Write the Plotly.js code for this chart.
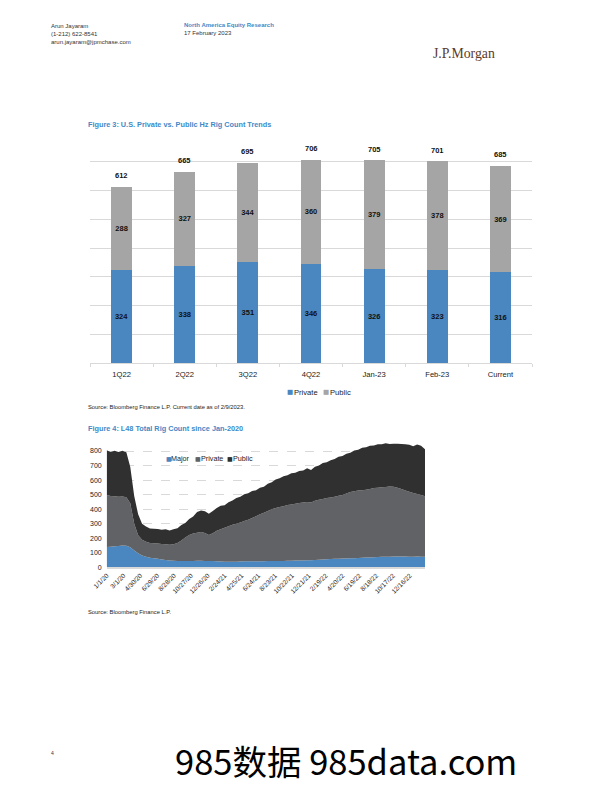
<!DOCTYPE html>
<html><head><meta charset="utf-8">
<script src="https://cdn.plot.ly/plotly-3.0.1.min.js"></script>
<style>html,body{margin:0;padding:0;background:#fff}#chart{width:612px;height:792px}</style>
</head><body><div id="chart"></div>
<script>
// ---------- Figure 3 data ----------
const fig3Categories = ['1Q22','2Q22','3Q22','4Q22','Jan-23','Feb-23','Current'];
const fig3Private = [324,338,351,346,326,323,316];
const fig3Public  = [288,327,344,360,379,378,369];
const fig3Total   = [612,665,695,706,705,701,685];

// ---------- Figure 4 data (bi-weekly readings) ----------
const fig4Dates = [
'2020-01-01','2020-01-15','2020-01-29','2020-02-12','2020-02-26','2020-03-11','2020-03-25','2020-04-08','2020-04-22','2020-05-06',
'2020-05-20','2020-06-03','2020-06-17','2020-07-01','2020-07-15','2020-07-29','2020-08-12','2020-08-26','2020-09-09','2020-09-23',
'2020-10-07','2020-10-21','2020-11-04','2020-11-18','2020-12-02','2020-12-16','2020-12-30','2021-01-13','2021-01-27','2021-02-10',
'2021-02-24','2021-03-10','2021-03-24','2021-04-07','2021-04-21','2021-05-05','2021-05-19','2021-06-02','2021-06-16','2021-06-30',
'2021-07-14','2021-07-28','2021-08-11','2021-08-25','2021-09-08','2021-09-22','2021-10-06','2021-10-20','2021-11-03','2021-11-17',
'2021-12-01','2021-12-15','2021-12-29','2022-01-12','2022-01-26','2022-02-09','2022-02-23','2022-03-09','2022-03-23','2022-04-06',
'2022-04-20','2022-05-04','2022-05-18','2022-06-01','2022-06-15','2022-06-29','2022-07-13','2022-07-27','2022-08-10','2022-08-24',
'2022-09-07','2022-09-21','2022-10-05','2022-10-19','2022-11-02','2022-11-16','2022-11-30','2022-12-14','2022-12-28','2023-01-11',
'2023-01-25','2023-02-08'];
const fig4Major = [
140,142,145,147,150,148,138,115,96,82,
72,66,62,58,54,50,47,45,44,44,
44,44,44,45,45,44,44,43,42,40,
38,38,38,39,40,41,41,42,42,42,
42,43,43,43,44,44,45,45,46,46,
47,48,48,50,52,54,56,57,58,59,
60,61,62,63,64,66,67,68,70,71,
72,73,73,74,74,74,74,73,72,74,
73,72];
const fig4Private = [
357,348,343,338,337,334,302,185,124,108,
103,102,103,105,106,108,109,113,124,141,
161,178,188,193,198,192,178,192,210,222,
234,244,254,261,268,277,287,298,310,323,
333,345,357,365,371,376,383,387,391,396,
399,402,398,408,413,416,420,423,428,433,
438,447,456,461,464,464,467,470,475,477,
478,479,483,481,474,464,454,447,440,431,
425,416];
const fig4Public = [
308,303,314,309,315,310,250,190,145,110,
106,99,100,101,99,104,98,103,100,106,
100,110,118,142,147,150,146,152,156,162,
155,166,168,176,178,184,181,185,178,183,
179,186,186,196,197,206,205,215,213,220,
220,232,224,234,235,247,247,257,260,268,
268,273,270,279,280,292,292,299,293,299,
296,302,292,295,302,310,318,324,321,340,
338,324];
const fig4TickDates = ['2020-01-01','2020-03-01','2020-04-30','2020-06-29','2020-08-28','2020-10-27','2020-12-26',
'2021-02-24','2021-04-25','2021-06-24','2021-08-23','2021-10-22','2021-12-21','2022-02-19','2022-04-20',
'2022-06-19','2022-08-18','2022-10-17','2022-12-16'];
const fig4TickLabels = ['1/1/20','3/1/20','4/30/20','6/29/20','8/28/20','10/27/20','12/26/20',
'2/24/21','4/25/21','6/24/21','8/23/21','10/22/21','12/21/21','2/19/22','4/20/22',
'6/19/22','8/18/22','10/17/22','12/16/22'];
const fig3GridVals = [0,100,200,300,400,500,600,700,800];
const fig4GridVals = [0,100,200,300,400,500,600,700,800];

// ---------- styling ----------
const FONT = 'Liberation Sans, Arial, sans-serif';
const W = 612, H = 792;
const px = v => v / W;
const py = v => 1 - v / H;
const BLUE = '#4A86C0', GRAY = '#A5A5A5', MIDGRAY = '#616265', DARK = '#303030';
const TITLE_BLUE = '#3F8AC8';

const traces = [
  {type:'bar', name:'Private', x:fig3Categories, y:fig3Private, xaxis:'x', yaxis:'y', showlegend:false,
   marker:{color:BLUE}, texttemplate:'<b>%{y}</b>', textposition:'inside', insidetextanchor:'middle',
   textangle:0, constraintext:'none', textfont:{size:7.5, color:'#111', family:FONT}, hoverinfo:'skip'},
  {type:'bar', name:'Public', x:fig3Categories, y:fig3Public, xaxis:'x', yaxis:'y', showlegend:false,
   marker:{color:GRAY}, texttemplate:'<b>%{y}</b>', textposition:'inside', insidetextanchor:'middle',
   textangle:0, constraintext:'none', textfont:{size:7.5, color:'#111', family:FONT}, hoverinfo:'skip'},
  {type:'scatter', name:'Major', x:fig4Dates, y:fig4Major, xaxis:'x2', yaxis:'y2', showlegend:false,
   stackgroup:'rig', mode:'none', fillcolor:BLUE, line:{width:0}, hoverinfo:'skip'},
  {type:'scatter', name:'Private', x:fig4Dates, y:fig4Private, xaxis:'x2', yaxis:'y2', showlegend:false,
   stackgroup:'rig', mode:'none', fillcolor:MIDGRAY, line:{width:0}, hoverinfo:'skip'},
  {type:'scatter', name:'Public', x:fig4Dates, y:fig4Public, xaxis:'x2', yaxis:'y2', showlegend:false,
   stackgroup:'rig', mode:'none', fillcolor:DARK, line:{width:0}, hoverinfo:'skip'}
];

function ann(text, x, y, opts) {
  return Object.assign({text:text, xref:'paper', yref:'paper', x:px(x), y:py(y),
    xanchor:'left', yanchor:'middle', showarrow:false,
    font:{family:FONT, size:6, color:'#333'}}, opts || {});
}

// totals above bars, placed through the category/value axes
const totalAnnotations = fig3Categories.map((c, i) => ({
  text:'<b>' + fig3Total[i] + '</b>', xref:'x', yref:'y', x:c, y:fig3Total[i],
  xanchor:'center', yanchor:'middle', yshift:11, showarrow:false,
  font:{family:FONT, size:7.5, color:'#111'}
}));

const legendFont = {family:FONT, size:7.6, color:'#222'};
const annotations = totalAnnotations.concat([
  ann('Arun Jayaram', 48.5, 25.5),
  ann('(1-212) 622-8541', 48.5, 33.7),
  ann('arun.jayaram@jpmchase.com', 48.5, 42),
  ann('<b>North America Equity Research</b>', 181.5, 25, {font:{family:FONT, size:6, color:TITLE_BLUE}}),
  ann('17 February 2023', 181.5, 33.5),
  ann('J.P.Morgan', 431, 54, {font:{family:'Liberation Serif, DejaVu Serif, serif', size:13.8, color:'#5B3B29'}}),
  ann('<b>Figure 3: U.S. Private vs. Public Hz Rig Count Trends</b>', 86, 124, {font:{family:FONT, size:7.3, color:TITLE_BLUE}}),
  ann('Source: Bloomberg Finance L.P. Current date as of 2/9/2023.', 86, 407, {font:{family:FONT, size:5.8, color:'#222'}}),
  ann('<b>Figure 4: L48 Total Rig Count since Jan-2020</b>', 86, 428, {font:{family:FONT, size:7.3, color:TITLE_BLUE}}),
  ann('Source: Bloomberg Finance L.P.', 86, 612, {font:{family:FONT, size:5.8, color:'#222'}}),
  ann('4', 48.5, 753, {font:{family:FONT, size:5, color:'#333'}}),
  ann('985数据 985data.com', 173, 760, {font:{family:'Noto Sans CJK SC, Noto Sans, sans-serif', size:34.5, color:'#000'}}),
  // Figure 3 legend
  ann('■', 284.5, 392, {font:{family:'DejaVu Sans, sans-serif', size:6.5, color:BLUE}}),
  ann('Private', 291.5, 392, {font:legendFont}),
  ann('■', 320.5, 392, {font:{family:'DejaVu Sans, sans-serif', size:6.5, color:GRAY}}),
  ann('Public', 327.5, 392, {font:legendFont}),
  // Figure 4 legend
  ann('■', 163.5, 458.3, {font:{family:'DejaVu Sans, sans-serif', size:6, color:BLUE}}),
  ann('Major', 169, 458.3, {font:{family:FONT, size:7.2, color:'#222'}}),
  ann('■', 193, 458.3, {font:{family:'DejaVu Sans, sans-serif', size:6, color:MIDGRAY}}),
  ann('Private', 198.5, 458.3, {font:{family:FONT, size:7.2, color:'#222'}}),
  ann('■', 225, 458.3, {font:{family:'DejaVu Sans, sans-serif', size:6, color:DARK}}),
  ann('Public', 230.5, 458.3, {font:{family:FONT, size:7.2, color:'#222'}})
]);

const layout = {
  width:W, height:H, margin:{l:0,r:0,t:0,b:0},
  paper_bgcolor:'#fff', plot_bgcolor:'rgba(0,0,0,0)',
  font:{family:FONT, size:7.5, color:'#222'},
  barmode:'stack', bargap:0.67,
  showlegend:false,
  xaxis:{domain:[px(90), px(532)], anchor:'y', type:'category', showgrid:false, showline:true,
    linecolor:'#d9d9d9', linewidth:1, ticks:'outside', tickson:'boundaries', ticklen:3, tickcolor:'#d9d9d9',
    tickfont:{size:7.6, color:'#222'}, ticklabelstandoff:4, zeroline:false, fixedrange:true},
  yaxis:{domain:[py(363.3), py(132.7)], anchor:'x', range:[0,800], tickvals:fig3GridVals,
    showticklabels:false, showgrid:true, gridcolor:'#d9d9d9', gridwidth:1, zeroline:false, showline:false, fixedrange:true},
  xaxis2:{domain:[px(106.7), px(425)], anchor:'y2', type:'date', range:['2020-01-01','2023-02-08'],
    tickvals:fig4TickDates, ticktext:fig4TickLabels, tickangle:-45, tickfont:{size:6.5, color:'#222'},
    showgrid:false, showline:true, linecolor:'#d9d9d9', linewidth:2, ticks:'', zeroline:false, fixedrange:true},
  yaxis2:{domain:[py(567.3), py(439.4)], anchor:'x2', range:[0,880], tickvals:fig4GridVals,
    showgrid:true, gridcolor:'#d9d9d9', griddash:'dash', gridwidth:1, tickfont:{size:7, color:'#222'},
    zeroline:false, showline:false, ticklabelstandoff:4, fixedrange:true},
  annotations:annotations
};

Plotly.newPlot('chart', traces, layout, {staticPlot:true, displayModeBar:false});
</script>
</body></html>
